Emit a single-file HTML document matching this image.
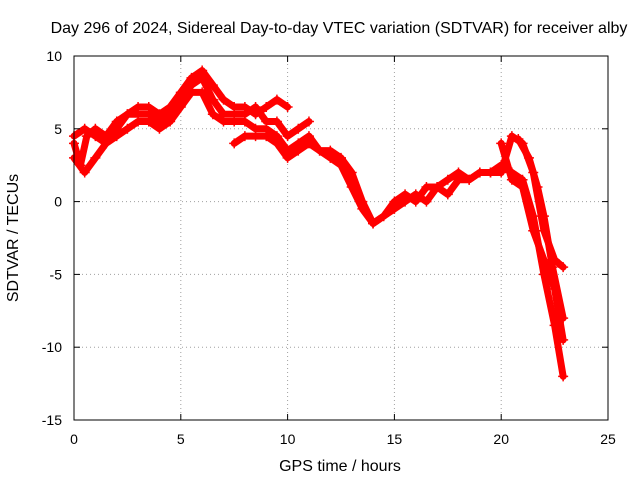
<!DOCTYPE html>
<html><head><meta charset="utf-8"><style>
body{margin:0;background:#fff;}
svg text{font-family:"Liberation Sans",Arial,sans-serif;font-size:14px;fill:#000;}
svg text.big{font-size:16px;}
</style></head><body>
<svg id="chart" width="640" height="480" viewBox="0 0 640 480" xmlns="http://www.w3.org/2000/svg">
<rect width="640" height="480" fill="#fff"/>
<g id="grid"></g>
<g id="series"></g>
<rect x="74" y="56" width="534" height="364" fill="none" stroke="#000" stroke-width="1"/>
<g id="ticks"></g>
<text class="big" x="339" y="33" text-anchor="middle">Day 296 of 2024, Sidereal Day-to-day VTEC variation (SDTVAR) for receiver alby</text>
<text class="big" x="340" y="471" text-anchor="middle">GPS time / hours</text>
<text class="big" x="18" y="238" text-anchor="middle" transform="rotate(-90 18 238)">SDTVAR / TECUs</text>
</svg>
<script>
const xTicks=[0,5,10,15,20,25];
const yTicks=[10,5,0,-5,-10,-15];
const track1=[[0,4.5],[0.5,5],[1,4.5],[1.5,4],[2,5],[2.5,6],[3,6.5],[3.5,6.5],[4,6],[4.5,6.5],[5,7.5],[5.5,8.5],[6,9],[6.5,8],[7,7],[7.5,6.5],[8,6.5],[8.5,6],[9,6.5],[9.5,7],[10,6.5]];
const track2=[[0,3],[0.5,2],[1,3],[1.5,4],[2,4.5],[2.5,5],[3,5.5],[3.5,5.5],[4,5],[4.5,5.5],[5,6.5],[5.5,7.5],[6,7.5],[6.5,6],[7,5.5],[7.5,5.5],[8,5.5],[8.5,5],[9,5],[9.5,4.5],[10,3.5],[10.5,4],[11,4.5],[11.5,3.5],[12,3.5],[12.5,3],[13,2],[13.5,0],[14,-1.5],[14.5,-1],[15,-0.5],[15.5,0],[16,0.5],[16.5,0],[17,1],[17.5,0.5],[18,1.5],[18.5,1.5],[19,2],[19.5,2],[20,2.5],[20.5,2],[21,1.5],[21.5,-1],[22,-5],[22.5,-8.5],[22.9,-12]];
const track3=[[7.5,4],[8,4.5],[8.5,4.5],[9,4.5],[9.5,4],[10,3],[10.5,3.5],[11,4],[11.5,3.5],[12,3],[12.5,2.5],[13,1],[13.5,-0.5],[14,-1.5],[14.5,-1],[15,0],[15.5,0.5],[16,0],[16.5,1],[17,1],[17.5,1.5],[18,2],[18.5,1.5],[19,2],[19.5,2],[20,2],[20.5,4.5],[21,4],[21.5,2],[22,-2],[22.5,-4],[22.9,-4.5]];
const track4=[[20,4],[20.5,1.5],[21,1],[21.5,-2],[22,-4],[22.5,-6],[22.9,-9.5]];
const track5=[[0,4],[0.3,2.5],[0.6,4.5],[1,5],[1.5,4.5],[2,5.5],[2.5,6],[3,6],[3.5,6],[4,5.5],[4.5,6],[5,7],[5.5,8],[6,8.5],[6.5,7],[7,6],[7.5,6],[8,6],[8.5,6.5],[9,5.5],[9.5,5.5],[10,4.5],[10.5,5],[11,5.5]];
const track6=[[20.8,4.3],[21.3,3],[21.7,1],[22,-1],[22.4,-4.5],[22.9,-8]];
const allTracks=[track1,track2,track3,track4,track5,track6];
const X0=74,X1=608,Y0=420,Y1=56;
function sx(v){return X0+(v-0)/(25-0)*(X1-X0);}
function sy(v){return Y0-(v+15)/(25)*(Y0-Y1);}
const NS="http://www.w3.org/2000/svg";
const grid=document.getElementById('grid'),ticks=document.getElementById('ticks'),series=document.getElementById('series');
function mk(tag,attrs,parent){const e=document.createElementNS(NS,tag);for(const k in attrs)e.setAttribute(k,attrs[k]);parent.appendChild(e);return e;}
xTicks.forEach(t=>{
  const x=sx(t);
  if(t>0&&t<25){const g=mk('line',{x1:x,x2:x,y1:Y1,y2:Y0,stroke:'#a0a0a0','stroke-dasharray':'1,3'},grid);
  
  }
  const a=mk('line',{x1:x,x2:x,y1:Y0,y2:Y0-6,stroke:'#000'},ticks);
  
  
  const b=mk('line',{x1:x,x2:x,y1:Y1,y2:Y1+6,stroke:'#000'},ticks);
  
  
  const l=mk('text',{x:x,y:Y0+24,'text-anchor':'middle'},ticks);l.textContent=t;
  
  
});
yTicks.forEach(t=>{
  const y=sy(t);
  if(t>-15&&t<10){const g=mk('line',{x1:X0,x2:X1,y1:y,y2:y,stroke:'#a0a0a0','stroke-dasharray':'1,3'},grid);
  
  }
  const a=mk('line',{x1:X0,x2:X0+6,y1:y,y2:y,stroke:'#000'},ticks);
  
  
  const b=mk('line',{x1:X1,x2:X1-6,y1:y,y2:y,stroke:'#000'},ticks);
  
  
  const l=mk('text',{x:X0-12,y:y+5,'text-anchor':'end'},ticks);l.textContent=t;
  
  
});
allTracks.forEach((tr,i)=>{
  const pts=tr.map(p=>sx(p[0])+','+sy(p[1])).join(' ');
  const pl=mk('polyline',{points:pts,fill:'none',stroke:'#ff0000','stroke-width':7,'stroke-linejoin':'round','stroke-linecap':'round'},series);
  
  
  tr.forEach(p=>{
    const x=sx(p[0]),y=sy(p[1]);
    const m=mk('path',{d:`M${x-5},${y}H${x+5}M${x},${y-5}V${y+5}`,stroke:'#ff0000','stroke-width':1.5},series);
    
    
  });
});
</script>
</body></html>
